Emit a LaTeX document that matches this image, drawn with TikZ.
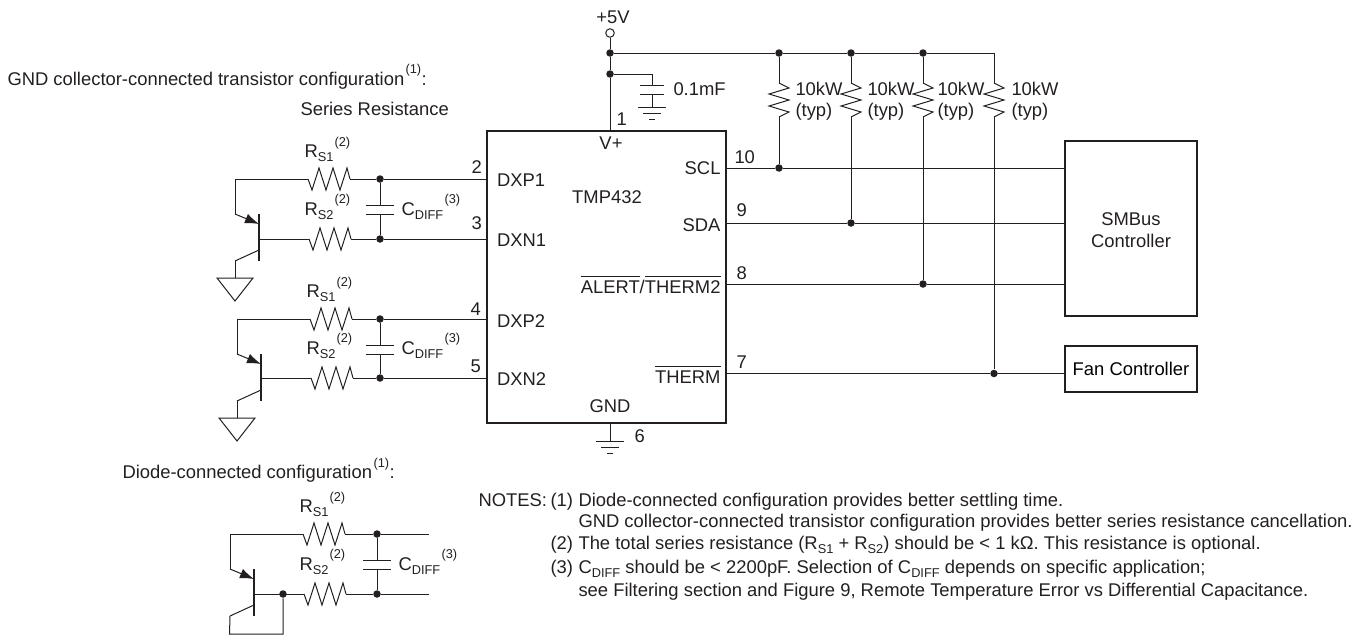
\documentclass[tikz,border=0pt]{standalone}
\usepackage{fontspec}
\setmainfont{Liberation Sans}
\usetikzlibrary{arrows.meta,calc}
\definecolor{wire}{HTML}{231F20}
\newcommand{\subtxt}[1]{\raisebox{-4.5pt}{\fontsize{12.8}{14}\selectfont #1}}
\newcommand{\ovl}[1]{\vbox{\hrule height 1.3pt\kern 3pt\hbox{#1}}}
\tikzset{
  lbl/.style={inner sep=0pt,anchor=base west,text=wire},
  supn/.style={inner sep=0pt,anchor=base west,text=wire,font=\fontsize{12.8}{14}\selectfont},
  dotn/.style={circle,fill=wire,inner sep=0pt,minimum size=7.5pt},
  thickbox/.style={draw=wire,line width=2.2pt,inner sep=0pt},
  hres/.pic={
    \coordinate (-l) at (0,0);
    \coordinate (-r) at (42,0);
    \draw (0,0)--(4,11)--(11,-11)--(18,11)--(25,-11)--(32,11)--(39,-11)--(42,0);
  },
  vres/.pic={
    \coordinate (-t) at (0,0);
    \coordinate (-b) at (0,34);
    \draw (0,0)--(10,5)--(-10,11)--(10,17)--(-10,23)--(10,29)--(0,34);
  },
  gnd/.pic={
    \coordinate (-t) at (0,0);
    \draw (-14,0)--(14,0) (-9,6)--(9,6) (-3,12)--(3,12);
  },
  tri/.pic={
    \coordinate (-t) at (0,0);
    \draw (-18,0)--(18,0)--(0,23)--cycle;
  }
}
\begin{document}
\begin{tikzpicture}[x=1pt,y=-1pt,font=\fontsize{18.4}{20}\selectfont,draw=wire,line width=1pt]
\useasboundingbox (0,0) rectangle (1362,635);
% chip and controllers
\node[thickbox,minimum width=239pt,minimum height=292pt] (chip) at (606.5,277) {};
\node[thickbox,minimum width=132pt,minimum height=175pt] (smbus) at (1131,228.5) {};
\node[lbl,anchor=base] at (1131,225) {SMBus};
\node[lbl,anchor=base] at (1131,247) {Controller};
\node[thickbox,minimum width=132pt,minimum height=46pt] (fan) at (1131,369) {Fan Controller};
% supply
\node[circle,draw=wire,fill=white,inner sep=0pt,minimum size=8.5pt] (vcc) at (610,33) {};
\node[lbl,anchor=base] at (613,23) {+5V};
\node[dotn] (top0) at (610,53) {};
\node[dotn] (capj) at (610,74) {};
\coordinate (pin1) at (610,131);
\coordinate (capt) at (652,85);
\coordinate (capb) at (652,94);
\pic (cg) at (652,107) {gnd};
\draw (vcc) -- (top0) -- (capj) -- (pin1);
\draw (capj) -| (capt) (capb) -- (cg-t);
\draw (640,85)--(664,85) (640,94)--(664,94);
\node[lbl] at (673,95) {0.1mF};
\node[lbl] at (616,125) {1};
\node[lbl,anchor=base] at (611,149) {V+};
\node[lbl,anchor=base] at (607,203) {TMP432};
% pull ups
\coordinate (top4) at (994,53);
\foreach \nm/\x/\y/\tx in {1/779/168/795,2/851/223/867,3/923/284/937}{
  \node[dotn] (top\nm) at (\x,53) {};
  \node[dotn] (bus\nm) at (\x,\y) {};
  \pic (ru\nm) at (\x,83) {vres};
  \draw (top\nm) -- (ru\nm-t) (ru\nm-b) -- (bus\nm);
  \node[lbl] at (\tx,95) {10kW};
  \node[lbl] at (\tx,116) {(typ)};
}
\node[dotn] (bus4) at (994,373.5) {};
\pic (ru4) at (994,83) {vres};
\draw (top4) -- (ru4-t) (ru4-b) -- (bus4);
\node[lbl] at (1011,95) {10kW};
\node[lbl] at (1011,116) {(typ)};
\draw (top0) -- (top1) -- (top2) -- (top3) -- (top4);
% outputs
\draw (726,168) -- (bus1) -- (1065,168);
\draw (726,223) -- (bus2) -- (1065,223);
\draw (726,284) -- (bus3) -- (1065,284);
\draw (726,373.5) -- (bus4) -- (1065,373.5);
\node[lbl] at (734,163) {10};
\node[lbl] at (736,216) {9};
\node[lbl] at (736,279) {8};
\node[lbl] at (736,368) {7};
\node[lbl,anchor=base east] at (721,174) {SCL};
\node[lbl,anchor=base east] at (721,231) {SDA};
\node[lbl,anchor=base east] (alert) at (721,293) {\ovl{ALERT}/\ovl{THERM2}};
\node[lbl,anchor=base east] at (721,383) {\ovl{THERM}};
\node[lbl,anchor=base] at (610,412) {GND};
\coordinate (pin6) at (610,423);
\pic (g6) at (610,441) {gnd};
\draw (pin6) -- (g6-t);
\node[lbl] at (634,442) {6};
% sensor networks
\foreach \nm/\bx/\dx/\ya/\yb/\endx in {1/259/380/179/239/487,2/261/380/319/378/487,3/254/377/534/594/429}{
  \pic (ra\nm) at (\bx+49,\ya) {hres};
  \pic (rb\nm) at (\bx+50,\yb) {hres};
  \node[dotn] (da\nm) at (\dx,\ya) {};
  \node[dotn] (db\nm) at (\dx,\yb) {};
  \coordinate (e\nm) at (\bx-24,\ya+35);
  \coordinate (c\nm) at (\bx-24,\ya+82);
  \coordinate (b\nm) at (\bx,\yb);
  \coordinate (ca\nm) at (\dx,\ya+26);
  \coordinate (cb\nm) at (\dx,\ya+35);
  \draw[line width=2.2pt] (\bx,\ya+35) -- (\bx,\ya+82);
  \draw[-{Latex[length=14pt,width=10pt]}] (e\nm) -- (\bx,\ya+45);
  \draw (c\nm) -- (\bx,\ya+71);
  \draw (e\nm) |- (ra\nm-l) (ra\nm-r) -- (da\nm) -- (\endx,\ya);
  \draw (b\nm) -- (rb\nm-l) (rb\nm-r) -- (db\nm) -- (\endx,\yb);
  \draw (da\nm) -- (ca\nm) (cb\nm) -- (db\nm);
  \draw (\dx-14,\ya+26) -- (\dx+14,\ya+26) (\dx-14,\ya+35) -- (\dx+14,\ya+35);
  \node[lbl] at (\bx+45,\ya-22) {R\subtxt{S1}};
  \node[supn] at (\bx+75,\ya-33) {(2)};
  \node[lbl] at (\bx+45,\yb-24) {R\subtxt{S2}};
  \node[supn] at (\bx+75,\yb-36) {(2)};
  \node[lbl] at (\dx+21,\yb-24) {C\subtxt{DIFF}};
  \node[supn] at (\dx+64,\yb-36) {(3)};
}
\foreach \nm in {1,2}{
  \pic (tg\nm) at ($(c\nm)+(0,17)$) {tri};
  \draw (c\nm) -- (tg\nm-t);
}
\node[dotn] (bj) at (283,594) {};
\coordinate (lp) at (283,634);
\draw (c3) -- (229.5,634) -- (lp) -- (bj);
% pin labels on the left
\foreach \tx/\lx/\ly in {2/471/173,3/471/229,4/470/315,5/470/372}{
  \node[lbl] at (\lx,\ly) {\tx};
}
\foreach \tx/\ly in {DXP1/186,DXN1/246,DXP2/327,DXN2/385}{
  \node[lbl] at (496.5,\ly) {\tx};
}
% headings
\node[lbl] (head1) at (7,85) {GND collector-connected transistor configuration};
\node[supn] at (405,73) {(1)};
\node[lbl] at (421,85) {:};
\node[lbl] at (300,115) {Series Resistance};
\node[lbl] (head2) at (122,478) {Diode-connected configuration};
\node[supn] at (373,467) {(1)};
\node[lbl] at (389,478) {:};
% notes
\node[lbl] at (478,506) {NOTES:};
\node[lbl] at (550,506) {(1)};
\node[lbl] at (578,506) {Diode-connected configuration provides better settling time.};
\node[lbl] at (578,527) {GND collector-connected transistor configuration provides better series resistance cancellation.};
\node[lbl] at (550,549) {(2)};
\node[lbl] at (578,549) {The total series resistance (R\subtxt{S1} + R\subtxt{S2}) should be < 1 kΩ. This resistance is optional.};
\node[lbl] at (550,573) {(3)};
\node[lbl] at (578,573) {C\subtxt{DIFF} should be < 2200pF. Selection of C\subtxt{DIFF} depends on specific application;};
\node[lbl] at (578,596) {see Filtering section and Figure 9, Remote Temperature Error vs Differential Capacitance.};
\end{tikzpicture}
\end{document}
